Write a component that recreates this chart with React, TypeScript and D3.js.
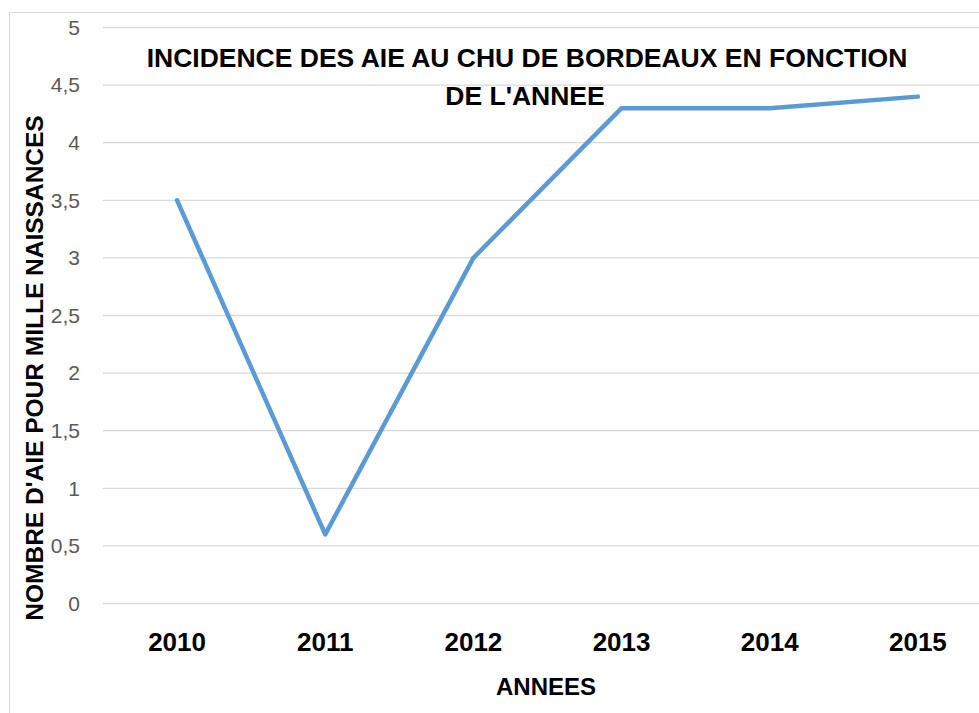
import * as d3 from 'd3';

const years = ['2010', '2011', '2012', '2013', '2014', '2015'];
const incidence = [3.5, 0.6, 3.0, 4.3, 4.3, 4.4];
const yTicks = [0, 0.5, 1, 1.5, 2, 2.5, 3, 3.5, 4, 4.5, 5];

const W = 979;
const H = 713;
const plot = { left: 103, right: 992, top: 27.5, bottom: 603.5 };
const font = 'Liberation Sans, Arial, sans-serif';

export default function App() {
  const x = d3.scaleBand<string>().domain(years).range([plot.left, plot.right]);
  const y = d3.scaleLinear().domain([0, 5]).range([plot.bottom, plot.top]);
  const line = d3
    .line<number>()
    .x((_, i) => (x(years[i]) ?? 0) + x.bandwidth() / 2)
    .y((d) => y(d));

  return (
    <svg
      width={W}
      height={H}
      style={{ position: 'absolute', left: 0, top: 0, background: '#fff' }}
    >
      <rect x={9.5} y={12.5} width={W + 10} height={H + 10} fill="#fff" stroke="#d9d9d9" />
      {yTicks.map((t) => (
        <g key={t}>
          <line x1={plot.left} x2={W} y1={y(t)} y2={y(t)} stroke="#d9d9d9" strokeWidth={1.3} />
          <text
            x={80}
            y={y(t)}
            dy="0.35em"
            textAnchor="end"
            fontFamily={font}
            fontSize={21}
            fill="#595959"
          >
            {String(t).replace('.', ',')}
          </text>
        </g>
      ))}
      {years.map((yr) => (
        <text
          key={yr}
          x={(x(yr) ?? 0) + x.bandwidth() / 2}
          y={651}
          textAnchor="middle"
          fontFamily={font}
          fontWeight="bold"
          fontSize={26}
          fill="#000"
        >
          {yr}
        </text>
      ))}
      <path
        d={line(incidence) ?? ''}
        fill="none"
        stroke="#5b9bd5"
        strokeWidth={4.5}
        strokeLinejoin="round"
        strokeLinecap="round"
      />
      <text x={527} y={67} textAnchor="middle" fontFamily={font} fontWeight="bold" fontSize={26.5} fill="#000">
        INCIDENCE DES AIE AU CHU DE BORDEAUX EN FONCTION
      </text>
      <text x={525} y={105} textAnchor="middle" fontFamily={font} fontWeight="bold" fontSize={26.5} fill="#000">
        DE L'ANNEE
      </text>
      <text x={546} y={695} textAnchor="middle" fontFamily={font} fontWeight="bold" fontSize={24} fill="#000">
        ANNEES
      </text>
      <text
        transform="translate(43,368) rotate(-90)"
        textAnchor="middle"
        fontFamily={font}
        fontWeight="bold"
        fontSize={24.5}
        fill="#000"
      >
        NOMBRE D'AIE POUR MILLE NAISSANCES
      </text>
    </svg>
  );
}
